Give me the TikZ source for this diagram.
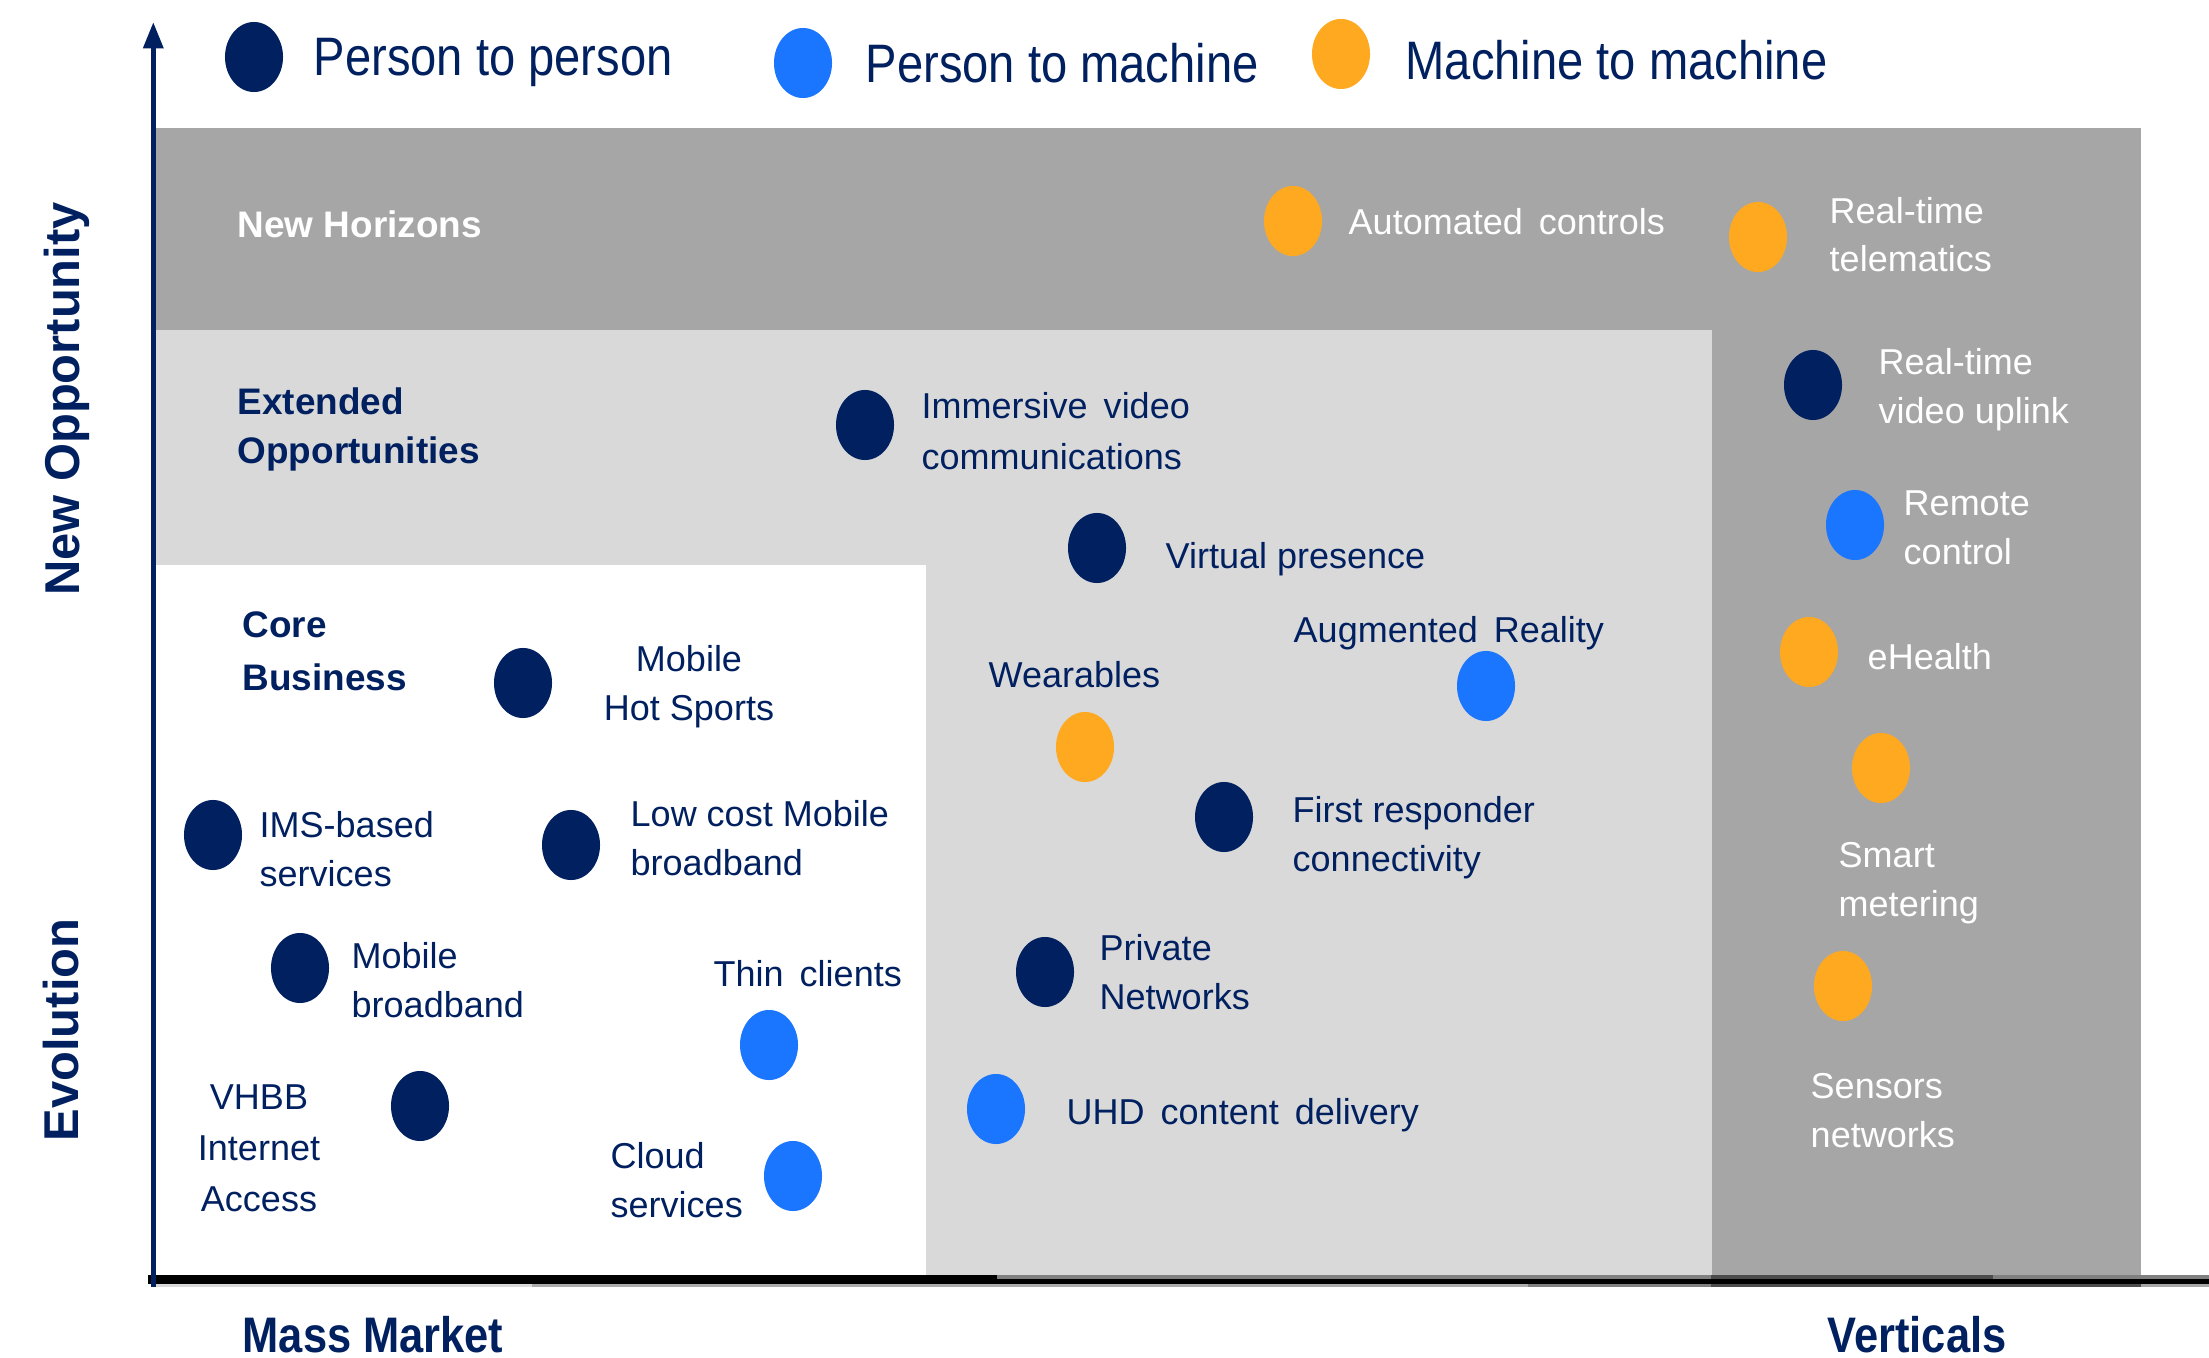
\documentclass[tikz,border=0pt]{standalone}
\usepackage{fontspec}
\setmainfont{Liberation Sans}
\newfontfamily\narrowfont[FakeStretch=0.87]{Liberation Sans}
\usetikzlibrary{shapes.geometric,arrows.meta}
\definecolor{cnavy}{HTML}{002060}
\definecolor{pblue}{HTML}{1A75FF}
\definecolor{morange}{HTML}{FFA920}
\definecolor{dgray}{HTML}{A6A6A6}
\definecolor{lgray}{HTML}{D9D9D9}
\begin{document}
\begin{tikzpicture}[x=0.01cm,y=-0.01cm,
  dot/.style={ellipse, fill=#1, draw=none, minimum width=0.58cm, minimum height=0.70cm, inner sep=0pt},
  item/.style={inner sep=0pt, anchor=base west, align=left, text=cnavy, font=\fontsize{10.24}{13.9}\selectfont},
  witem/.style={item, text=white},
  region/.style={item, font=\bfseries\fontsize{10.5}{13.9}\selectfont},
  legendtext/.style={inner sep=0pt, anchor=base west, text=cnavy, font=\narrowfont\fontsize{15.4}{18}\selectfont},
  axislabel/.style={inner sep=0pt, rotate=90, anchor=base, text=cnavy, font=\bfseries\fontsize{13.9}{16}\selectfont},
  bottomlabel/.style={inner sep=0pt, anchor=base west, text=cnavy, font=\narrowfont\bfseries\fontsize{14.2}{17}\selectfont}]
\useasboundingbox (0,0) rectangle (2209,1358);
\fill[white] (0,0) rectangle (2209,1358);
% regions
\fill[dgray] (156,128) rectangle (2141,1275);
\fill[lgray] (156,330) rectangle (1712,1275);
\fill[white] (156,565) rectangle (926,1275);
% horizontal axis
\fill[black] (148,1275) rectangle (997,1279);
\fill[black!50] (997,1275) rectangle (2209,1279);
\fill[black!70] (1711,1275) rectangle (1993,1279);
\fill[black] (148,1279) rectangle (2209,1283.5);
\fill[lgray] (155,1283.5) rectangle (532,1287);
\fill[black!33] (532,1283.5) rectangle (1528,1287);
\fill[black!50] (1528,1283.5) rectangle (1711,1287);
\fill[black!70] (1711,1283.5) rectangle (2141,1287);
\fill[dgray] (2141,1283.5) rectangle (2209,1287);
% vertical axis
\coordinate (ybot) at (153.3,1287);
\coordinate (ytop) at (153.3,22);
\draw[cnavy, line width=1.5pt, -{Triangle[length=7.5pt,width=5.5pt]}] (ybot) -- (ytop);
% legend
\node[dot=cnavy] (lg1) at (254,57) {};
\node[legendtext] (lt1) at (313,76) {Person to person};
\node[dot=pblue] (lg2) at (803,63) {};
\node[legendtext] (lt2) at (865,83) {Person to machine};
\node[dot=morange] (lg3) at (1341,54) {};
\node[legendtext] (lt3) at (1405,80) {Machine to machine};
% axis labels
\node[axislabel] (newopp) at (79,399) {New Opportunity};
\node[axislabel] (evol) at (78,1030) {Evolution};
\node[bottomlabel] (mass) at (242,1352) {Mass Market};
\node[bottomlabel] (vert) at (1827,1352) {Verticals};
% region labels (base = last line)
\node[region, text=white] (rnh) at (237,238) {New Horizons};
\node[region] (reo) at (237,463) {Extended\\Opportunities};
\node[region, font=\bfseries\fontsize{10.5}{14.8}\selectfont] (rcb) at (242,690) {Core\\Business};
% dots
\node[dot=morange] (d1) at (1293,221) {};
\node[dot=morange] (d2) at (1758,237) {};
\node[dot=cnavy] (d3) at (1813,385) {};
\node[dot=pblue] (d4) at (1855,525) {};
\node[dot=morange] (d5) at (1809,652) {};
\node[dot=morange] (d6) at (1881,768) {};
\node[dot=morange] (d7) at (1843,986) {};
\node[dot=cnavy] (d8) at (865,425) {};
\node[dot=cnavy] (d9) at (1097,548) {};
\node[dot=pblue] (d10) at (1486,686) {};
\node[dot=morange] (d11) at (1085,747) {};
\node[dot=cnavy] (d12) at (1224,817) {};
\node[dot=cnavy] (d13) at (1045,972) {};
\node[dot=pblue] (d14) at (996,1109) {};
\node[dot=cnavy] (d15) at (523,683) {};
\node[dot=cnavy] (d16) at (213,835) {};
\node[dot=cnavy] (d17) at (571,845) {};
\node[dot=cnavy] (d18) at (300,968) {};
\node[dot=pblue] (d19) at (769,1045) {};
\node[dot=cnavy] (d20) at (420,1106) {};
\node[dot=pblue] (d21) at (793,1176) {};
% labels (base = last line)
\node[witem] (t1) at (1348,235) {Automated\, controls};
\node[witem] (t2) at (1829,272) {Real-time\\telematics};
\node[witem] (t3) at (1878,423) {Real-time\\video uplink};
\node[witem] (t4) at (1903,564) {Remote\\control};
\node[witem] (t5) at (1867,669) {eHealth};
\node[witem] (t6) at (1838,916) {Smart\\metering};
\node[witem] (t7) at (1810,1147) {Sensors\\networks};
\node[item, font=\fontsize{10.24}{14.6}\selectfont] (t8) at (921,470) {Immersive\, video\\communications};
\node[item] (t9) at (1165,568) {Virtual presence};
\node[item] (t10) at (1293,642) {Augmented\, Reality};
\node[item] (t11) at (988,687) {Wearables};
\node[item] (t12) at (1292,871) {First responder\\connectivity};
\node[item] (t13) at (1099,1009) {Private\\Networks};
\node[item] (t14) at (1066,1124) {UHD\, content\, delivery};
\node[item, anchor=base, align=center] (t15) at (689,720) {Mobile\\Hot Sports};
\node[item] (t16) at (259,886) {IMS-based\\services};
\node[item] (t17) at (630,875) {Low cost Mobile\\broadband};
\node[item] (t18) at (351,1017) {Mobile\\broadband};
\node[item] (t19) at (713,986) {Thin\, clients};
\node[item, anchor=base, align=center, font=\fontsize{10.24}{14.5}\selectfont] (t20) at (259,1211) {VHBB\\Internet\\Access};
\node[item, font=\fontsize{10.24}{13.7}\selectfont] (t21) at (610,1217) {Cloud\\services};
\end{tikzpicture}
\end{document}
